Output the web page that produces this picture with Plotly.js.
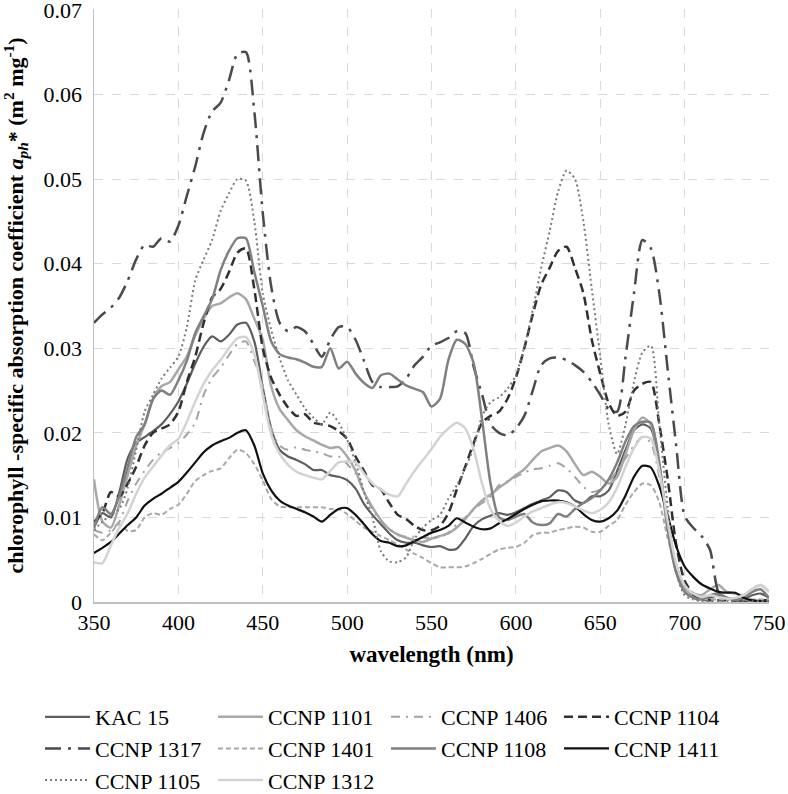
<!DOCTYPE html>
<html>
<head>
<meta charset="utf-8">
<script src="https://cdn.plot.ly/plotly-3.0.1.min.js"></script>
<style>
html,body{margin:0;padding:0;background:#fff;}
#chart{width:788px;height:794px;}
#chart svg text{font-family:"Liberation Serif","Times New Roman",Times,serif !important;}
</style>
</head>
<body>
<div id="chart"></div>
<script>
// wavelengths 350..750 nm every 5 nm
const wavelength = [350,355,360,365,370,375,380,385,390,395,400,405,410,415,420,425,430,435,440,445,450,455,460,465,470,475,480,485,490,495,500,505,510,515,520,525,530,535,540,545,550,555,560,565,570,575,580,585,590,595,600,605,610,615,620,625,630,635,640,645,650,655,660,665,670,675,680,685,690,695,700,705,710,715,720,725,730,735,740,745,750];

const kac15 = [0.0088,0.0105,0.0100,0.0130,0.0170,0.0188,0.0195,0.0202,0.0210,0.0222,0.0237,0.0258,0.0282,0.0302,0.0314,0.0308,0.0316,0.0328,0.0330,0.0308,0.0254,0.0205,0.0180,0.0172,0.0168,0.0163,0.0156,0.0156,0.0150,0.0148,0.0144,0.0134,0.0116,0.0103,0.0092,0.0081,0.0073,0.0070,0.0070,0.0067,0.0065,0.0066,0.0062,0.0063,0.0075,0.0090,0.0098,0.0102,0.0105,0.0103,0.0106,0.0111,0.0116,0.0120,0.0124,0.0132,0.0130,0.0120,0.0117,0.0125,0.0125,0.0132,0.0155,0.0180,0.0203,0.0210,0.0205,0.0160,0.0090,0.0040,0.0018,0.0008,0.0005,0.0005,0.0008,0.0005,0.0003,0.0003,0.0008,0.0010,0.0005];

const ccnp1101 = [0.0145,0.0095,0.0088,0.0115,0.0150,0.0185,0.0210,0.0240,0.0255,0.0260,0.0275,0.0290,0.0315,0.0335,0.0350,0.0353,0.0360,0.0365,0.0358,0.0335,0.0310,0.0255,0.0228,0.0215,0.0203,0.0196,0.0191,0.0186,0.0182,0.0183,0.0172,0.0155,0.0130,0.0112,0.0097,0.0086,0.0080,0.0076,0.0073,0.0071,0.0075,0.0078,0.0081,0.0088,0.0098,0.0110,0.0120,0.0127,0.0135,0.0142,0.0150,0.0157,0.0168,0.0178,0.0182,0.0185,0.0178,0.0163,0.0150,0.0154,0.0148,0.0140,0.0148,0.0175,0.0203,0.0218,0.0210,0.0160,0.0085,0.0035,0.0015,0.0010,0.0008,0.0015,0.0020,0.0012,0.0010,0.0008,0.0015,0.0020,0.0012];

const ccnp1406 = [0.0085,0.0082,0.0085,0.0095,0.0120,0.0140,0.0155,0.0168,0.0177,0.0182,0.0188,0.0198,0.0212,0.0245,0.0265,0.0277,0.0292,0.0305,0.0308,0.0285,0.0255,0.0205,0.0185,0.0180,0.0183,0.0180,0.0178,0.0176,0.0172,0.0172,0.0163,0.0152,0.0130,0.0110,0.0095,0.0086,0.0079,0.0077,0.0077,0.0076,0.0076,0.0077,0.0082,0.0092,0.0100,0.0109,0.0117,0.0124,0.0138,0.0143,0.0148,0.0153,0.0157,0.0158,0.0161,0.0164,0.0158,0.0148,0.0136,0.0130,0.0133,0.0142,0.0155,0.0170,0.0185,0.0195,0.0188,0.0148,0.0090,0.0045,0.0018,0.0008,0.0004,0.0003,0.0003,0.0003,0.0003,0.0003,0.0003,0.0003,0.0003];

const ccnp1104 = [0.0095,0.0105,0.0130,0.0125,0.0140,0.0160,0.0185,0.0200,0.0205,0.0210,0.0225,0.0260,0.0290,0.0330,0.0360,0.0370,0.0390,0.0413,0.0418,0.0370,0.0300,0.0265,0.0245,0.0230,0.0220,0.0222,0.0212,0.0210,0.0208,0.0202,0.0193,0.0172,0.0155,0.0138,0.0133,0.0117,0.0103,0.0098,0.0090,0.0085,0.0085,0.0090,0.0105,0.0133,0.0160,0.0188,0.0212,0.0220,0.0225,0.0240,0.0265,0.0300,0.0340,0.0375,0.0395,0.0415,0.0420,0.0395,0.0365,0.0310,0.0270,0.0235,0.0220,0.0225,0.0250,0.0258,0.0260,0.0210,0.0145,0.0068,0.0025,0.0010,0.0003,0.0002,0.0002,0.0002,0.0002,0.0002,0.0002,0.0002,0.0002];

const ccnp1317 = [0.0330,0.0340,0.0348,0.0360,0.0380,0.0405,0.0422,0.0420,0.0430,0.0426,0.0445,0.0480,0.0515,0.0555,0.0580,0.0590,0.0617,0.0648,0.0650,0.0580,0.0460,0.0373,0.0330,0.0320,0.0325,0.0320,0.0305,0.0290,0.0310,0.0325,0.0325,0.0310,0.0285,0.0260,0.0254,0.0254,0.0255,0.0264,0.0280,0.0290,0.0303,0.0307,0.0312,0.0320,0.0318,0.0278,0.0245,0.0210,0.0200,0.0197,0.0205,0.0220,0.0250,0.0280,0.0288,0.0289,0.0286,0.0280,0.0272,0.0260,0.0245,0.0228,0.0225,0.0290,0.0365,0.0428,0.0418,0.0365,0.0274,0.0185,0.0102,0.0088,0.0078,0.0062,0.0012,0.0003,0.0001,0.0001,0.0001,0.0001,0.0001];

const ccnp1401 = [0.0080,0.0073,0.0082,0.0092,0.0084,0.0085,0.0100,0.0105,0.0103,0.0110,0.0115,0.0128,0.0143,0.0150,0.0155,0.0158,0.0170,0.0180,0.0176,0.0163,0.0144,0.0122,0.0113,0.0112,0.0112,0.0112,0.0112,0.0112,0.0110,0.0110,0.0104,0.0096,0.0088,0.0083,0.0078,0.0073,0.0068,0.0062,0.0057,0.0052,0.0046,0.0041,0.0041,0.0041,0.0042,0.0046,0.0051,0.0057,0.0062,0.0064,0.0065,0.0070,0.0079,0.0082,0.0082,0.0085,0.0087,0.0089,0.0088,0.0083,0.0083,0.0090,0.0097,0.0115,0.0130,0.0140,0.0138,0.0118,0.0075,0.0040,0.0015,0.0005,0.0003,0.0003,0.0003,0.0003,0.0003,0.0003,0.0003,0.0003,0.0003];

const ccnp1108 = [0.0088,0.0112,0.0104,0.0125,0.0160,0.0195,0.0210,0.0240,0.0250,0.0245,0.0262,0.0285,0.0318,0.0338,0.0358,0.0392,0.0415,0.0430,0.0430,0.0390,0.0350,0.0308,0.0293,0.0289,0.0287,0.0283,0.0278,0.0278,0.0300,0.0276,0.0284,0.0270,0.0259,0.0253,0.0268,0.0270,0.0263,0.0256,0.0252,0.0248,0.0231,0.0240,0.0286,0.0310,0.0305,0.0282,0.0215,0.0140,0.0100,0.0097,0.0101,0.0104,0.0094,0.0091,0.0093,0.0104,0.0101,0.0110,0.0117,0.0123,0.0132,0.0145,0.0165,0.0190,0.0208,0.0213,0.0212,0.0165,0.0085,0.0035,0.0012,0.0005,0.0003,0.0008,0.0010,0.0005,0.0003,0.0005,0.0012,0.0015,0.0005];

const ccnp1411 = [0.0058,0.0064,0.0071,0.0081,0.0091,0.0100,0.0114,0.0122,0.0128,0.0135,0.0142,0.0153,0.0165,0.0177,0.0185,0.0190,0.0194,0.0200,0.0203,0.0185,0.0152,0.0132,0.0120,0.0114,0.0110,0.0106,0.0101,0.0095,0.0103,0.0110,0.0111,0.0103,0.0092,0.0080,0.0072,0.0070,0.0066,0.0067,0.0072,0.0077,0.0082,0.0085,0.0090,0.0099,0.0094,0.0089,0.0086,0.0087,0.0093,0.0098,0.0104,0.0110,0.0115,0.0119,0.0120,0.0120,0.0118,0.0113,0.0104,0.0097,0.0095,0.0099,0.0108,0.0126,0.0148,0.0161,0.0159,0.0137,0.0102,0.0066,0.0042,0.0030,0.0021,0.0016,0.0012,0.0011,0.0011,0.0005,0.0002,0.0001,0.0000];

const ccnp1105 = [0.0085,0.0095,0.0103,0.0110,0.0135,0.0180,0.0225,0.0245,0.0264,0.0277,0.0290,0.0325,0.0380,0.0405,0.0428,0.0462,0.0483,0.0500,0.0498,0.0450,0.0365,0.0322,0.0288,0.0262,0.0245,0.0229,0.0218,0.0210,0.0224,0.0212,0.0192,0.0165,0.0130,0.0100,0.0060,0.0048,0.0047,0.0053,0.0075,0.0088,0.0097,0.0103,0.0122,0.0138,0.0158,0.0183,0.0220,0.0236,0.0242,0.0252,0.0268,0.0302,0.0345,0.0395,0.0438,0.0485,0.0510,0.0500,0.0450,0.0370,0.0290,0.0210,0.0175,0.0210,0.0260,0.0295,0.0303,0.0210,0.0112,0.0035,0.0008,0.0003,0.0001,0.0001,0.0001,0.0001,0.0001,0.0001,0.0001,0.0001,0.0001];

const ccnp1312 = [0.0047,0.0046,0.0067,0.0088,0.0105,0.0128,0.0147,0.0160,0.0173,0.0185,0.0193,0.0213,0.0237,0.0258,0.0274,0.0286,0.0300,0.0312,0.0313,0.0293,0.0245,0.0198,0.0175,0.0162,0.0154,0.0150,0.0147,0.0145,0.0155,0.0165,0.0166,0.0165,0.0152,0.0140,0.0133,0.0127,0.0125,0.0140,0.0155,0.0168,0.0181,0.0195,0.0205,0.0212,0.0205,0.0180,0.0140,0.0110,0.0096,0.0090,0.0094,0.0101,0.0107,0.0111,0.0115,0.0118,0.0117,0.0113,0.0108,0.0105,0.0109,0.0118,0.0135,0.0160,0.0182,0.0195,0.0193,0.0155,0.0095,0.0045,0.0020,0.0010,0.0006,0.0008,0.0006,0.0004,0.0005,0.0008,0.0015,0.0020,0.0012];

const seriesNames = ["KAC 15","CCNP 1101","CCNP 1406","CCNP 1104","CCNP 1317","CCNP 1401","CCNP 1108","CCNP 1411","CCNP 1105","CCNP 1312"];
const seriesValues = [kac15, ccnp1101, ccnp1406, ccnp1104, ccnp1317, ccnp1401, ccnp1108, ccnp1411, ccnp1105, ccnp1312];
const xTicks = [350,400,450,500,550,600,650,700,750];
const yTicks = [0,0.01,0.02,0.03,0.04,0.05,0.06,0.07];

const styles = [
  {color:"#5e5e5e", width:2.2, dash:"solid"},
  {color:"#a8a8a8", width:2.5, dash:"solid"},
  {color:"#a3a3a3", width:2,   dash:"9px,6px,2px,6px"},
  {color:"#303030", width:2.5, dash:"9px,5px"},
  {color:"#4a4a4a", width:2.5, dash:"16px,7px,3px,7px"},
  {color:"#a8a8a8", width:2,   dash:"5px,3px"},
  {color:"#808080", width:2.5, dash:"solid"},
  {color:"#111111", width:2.2, dash:"solid"},
  {color:"#7a7a7a", width:2,   dash:"2px,3px"},
  {color:"#d3d3d3", width:2.5, dash:"solid"}
];

const traces = seriesNames.map((name, i) => ({
  type: "scatter",
  mode: "lines",
  name: name,
  x: wavelength,
  y: seriesValues[i],
  line: Object.assign({shape: "spline", smoothing: 0.7}, styles[i])
}));

const serif = "Liberation Serif, Times New Roman, Times, serif";

const layout = {
  width: 788,
  height: 794,
  margin: {l: 94, r: 19, t: 9, b: 192, autoexpand: false},
  paper_bgcolor: "#ffffff",
  plot_bgcolor: "#ffffff",
  font: {family: serif, color: "#000000", size: 22},
  showlegend: true,
  legend: {
    orientation: "h",
    x: -0.08, xanchor: "left",
    y: -0.1586, yanchor: "top",
    font: {family: serif, size: 22, color: "#000"},
    entrywidth: 113, entrywidthmode: "pixels",
    itemwidth: 45,
    traceorder: "normal",
    bgcolor: "rgba(0,0,0,0)"
  },
  xaxis: {
    range: [350, 750],
    tickvals: xTicks,
    ticktext: xTicks.map(String),
    ticks: "",
    tickfont: {family: serif, size: 22, color: "#000"},
    ticklabeloverflow: "allow",
    showgrid: true, gridcolor: "#d9d9d9", gridwidth: 1, griddash: "dash",
    showline: true, linecolor: "#bfbfbf", linewidth: 1.5,
    zeroline: false,
    automargin: false,
    title: {text: "<b>wavelength (nm)</b>", font: {family: serif, size: 23, color: "#000"}, standoff: 12}
  },
  yaxis: {
    range: [0, 0.0701],
    tickvals: yTicks,
    ticktext: yTicks.map(v => v === 0 ? "0" : v.toFixed(2)),
    ticks: "",
    ticklabelstandoff: 6,
    tickfont: {family: serif, size: 22, color: "#000"},
    ticklabeloverflow: "allow",
    showgrid: true, gridcolor: "#d9d9d9", gridwidth: 1, griddash: "dash",
    showline: true, linecolor: "#bfbfbf", linewidth: 1.5,
    zeroline: false,
    automargin: false,
    title: {text: "<b>chlorophyll -specific absorption coefficient <i>a</i><sub><i>ph</i></sub>* (m<sup>2</sup> mg<sup>-1</sup>)</b>", font: {family: serif, size: 22, color: "#000"}, standoff: 14}
  }
};

Plotly.newPlot("chart", traces, layout, {displayModeBar: false, staticPlot: true});
</script>
</body>
</html>
